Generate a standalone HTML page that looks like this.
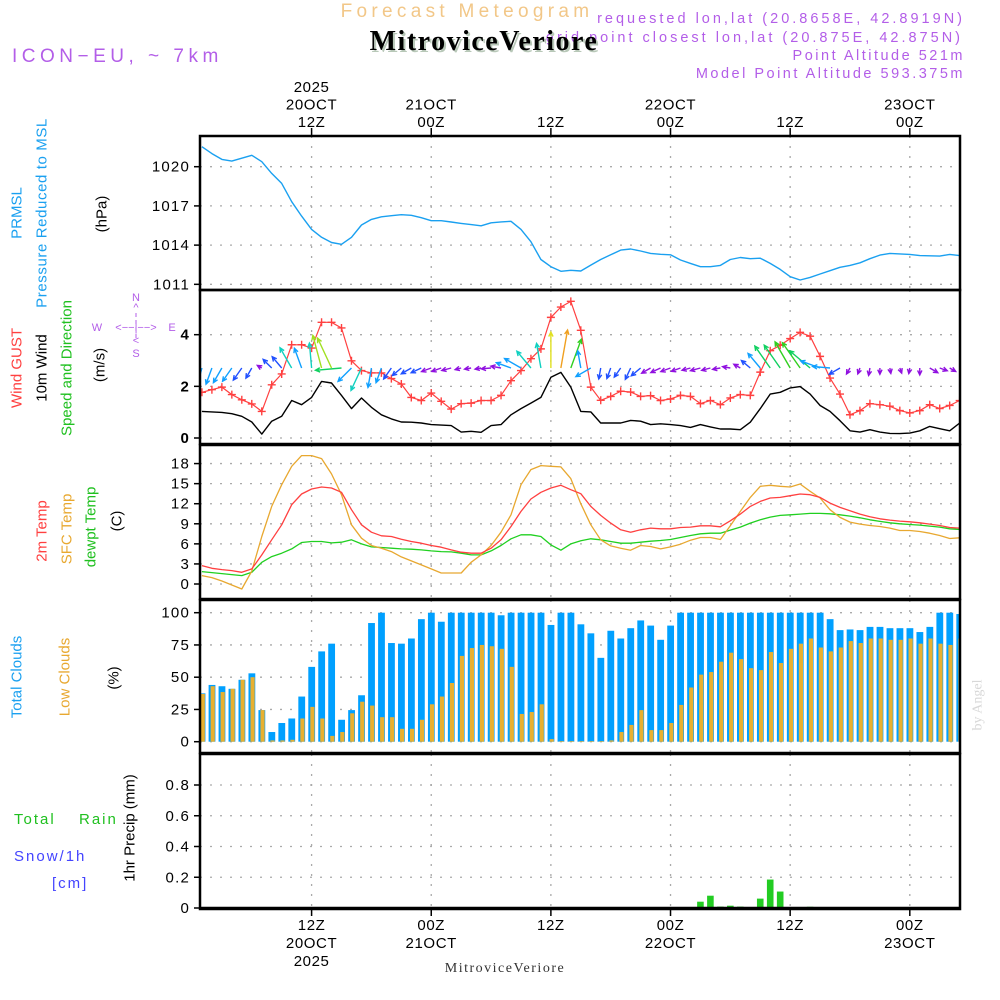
<!DOCTYPE html>
<html><head><meta charset="utf-8"><style>
html,body{margin:0;padding:0;background:#fff}
svg{display:block;font-family:"Liberation Sans",sans-serif}
</style></head><body>
<svg id="chart" width="1000" height="1000" viewBox="0 0 1000 1000">
<defs><clipPath id="plotclip"><rect x="200" y="130" width="760" height="790"/></clipPath></defs>
<g id="header">
<text x="467" y="17" font-size="19" fill="#f2c788" text-anchor="middle" letter-spacing="4.3">Forecast Meteogram</text>
<text x="965" y="23" font-size="14.5" fill="#b35ee8" text-anchor="end" letter-spacing="3">requested lon,lat (20.8658E, 42.8919N)</text>
<text x="963" y="42" font-size="14.5" fill="#b35ee8" text-anchor="end" letter-spacing="3">grid point closest lon,lat (20.875E, 42.875N)</text>
<text x="484" y="50" font-size="28" font-weight="bold" font-family="Liberation Serif,serif" fill="#b8c8b8" text-anchor="middle" letter-spacing="1.5" transform="translate(2,2)">MitroviceVeriore</text>
<text x="484" y="50" font-size="28" font-weight="bold" font-family="Liberation Serif,serif" fill="#000" text-anchor="middle" letter-spacing="1.5">MitroviceVeriore</text>
<text x="12" y="62" font-size="19" fill="#b35ee8" letter-spacing="4.5">ICON−EU, ~ 7km</text>
<text x="965" y="60" font-size="14.5" fill="#b35ee8" text-anchor="end" letter-spacing="2.5">Point Altitude 521m</text>
<text x="965" y="78" font-size="14.5" fill="#b35ee8" text-anchor="end" letter-spacing="2.5">Model Point Altitude 593.375m</text>
</g>
<g id="grid"></g>
<g id="marks" clip-path="url(#plotclip)"></g>
<g id="frames"></g>
<g id="axes"></g>
<g id="labels" font-size="15">
<text transform="translate(17,213) rotate(-90)" text-anchor="middle" dominant-baseline="central" fill="#1aa0f0">PRMSL</text>
<text transform="translate(42,213) rotate(-90)" text-anchor="middle" dominant-baseline="central" fill="#1aa0f0" letter-spacing="0.6">Pressure Reduced to MSL</text>
<text transform="translate(102,214) rotate(-90)" text-anchor="middle" dominant-baseline="central" fill="#000">(hPa)</text>
<text transform="translate(17,368) rotate(-90)" text-anchor="middle" dominant-baseline="central" fill="#ff4040">Wind GUST</text>
<text transform="translate(42,368) rotate(-90)" text-anchor="middle" dominant-baseline="central" fill="#000">10m Wind</text>
<text transform="translate(67,368) rotate(-90)" text-anchor="middle" dominant-baseline="central" fill="#20c020">Speed and Direction</text>
<text transform="translate(100,365) rotate(-90)" text-anchor="middle" dominant-baseline="central" fill="#000">(m/s)</text>
<g fill="#b35ee8" font-size="11" text-anchor="middle">
<text x="136" y="301">N</text><text x="136" y="311">^</text><text x="97" y="331">W</text><text x="172" y="331">E</text>
<text x="136" y="331">&lt;−−|−−&gt;</text><text x="136" y="344">&lt;</text><text x="136" y="357">S</text>
<line x1="136" y1="313" x2="136" y2="340" stroke="#b35ee8" stroke-dasharray="4 3"/>
</g>
<text transform="translate(42,531) rotate(-90)" text-anchor="middle" dominant-baseline="central" fill="#ff4040">2m Temp</text>
<text transform="translate(67,529) rotate(-90)" text-anchor="middle" dominant-baseline="central" fill="#e8a830">SFC Temp</text>
<text transform="translate(91,527) rotate(-90)" text-anchor="middle" dominant-baseline="central" fill="#20c020">dewpt Temp</text>
<text transform="translate(117,521) rotate(-90)" text-anchor="middle" dominant-baseline="central" fill="#000">(C)</text>
<text transform="translate(17,677) rotate(-90)" text-anchor="middle" dominant-baseline="central" fill="#1aa0f0">Total Clouds</text>
<text transform="translate(65,677) rotate(-90)" text-anchor="middle" dominant-baseline="central" fill="#e8a830">Low Clouds</text>
<text transform="translate(114,678) rotate(-90)" text-anchor="middle" dominant-baseline="central" fill="#000">(%)</text>
<text transform="translate(130,828) rotate(-90)" text-anchor="middle" dominant-baseline="central" fill="#000">1hr Precip (mm)</text>
<text x="14" y="824" fill="#20c020" letter-spacing="2">Total</text>
<text x="79" y="824" fill="#20c020" letter-spacing="2">Rain</text>
<text x="14" y="861" fill="#4444ff" letter-spacing="2">Snow/1h</text>
<text x="52" y="888" fill="#4444ff" letter-spacing="2">[cm]</text>
<text transform="translate(978,705) rotate(-90)" text-anchor="middle" dominant-baseline="central" fill="#d8d8d8" font-family="Liberation Serif,serif" font-size="14">by Angel</text>
<text x="505" y="972" font-family="Liberation Serif,serif" font-size="14" fill="#333" text-anchor="middle" letter-spacing="1.5">MitroviceVeriore</text>
</g>
</svg>
<script>
const pressure=[1021.53,1021.0,1020.56,1020.43,1020.65,1020.87,1020.38,1019.49,1018.72,1017.32,1016.22,1015.2,1014.6,1014.2,1014.06,1014.6,1015.54,1015.97,1016.17,1016.25,1016.33,1016.28,1016.1,1015.87,1015.87,1015.77,1015.66,1015.57,1015.48,1015.71,1015.78,1015.82,1015.2,1014.26,1012.9,1012.35,1012.0,1012.07,1012.02,1012.47,1012.9,1013.26,1013.62,1013.7,1013.55,1013.37,1013.3,1013.26,1012.86,1012.6,1012.35,1012.35,1012.45,1012.9,1013.05,1012.96,1013.0,1012.6,1012.14,1011.58,1011.33,1011.53,1011.79,1012.04,1012.3,1012.45,1012.65,1012.96,1013.24,1013.37,1013.33,1013.29,1013.2,1013.18,1013.16,1013.29,1013.2];
const gust=[1.77,1.87,1.97,1.68,1.48,1.32,1.03,2.06,2.48,3.61,3.61,3.48,4.48,4.48,4.26,2.99,2.61,2.52,2.52,2.3,2.09,1.57,1.45,1.74,1.42,1.12,1.33,1.35,1.45,1.45,1.65,2.22,2.61,3.07,3.45,4.67,5.07,5.29,4.17,1.97,1.46,1.61,1.81,1.78,1.61,1.64,1.45,1.51,1.65,1.61,1.33,1.45,1.29,1.55,1.68,1.65,2.55,3.38,3.59,3.85,4.09,3.94,3.16,2.32,1.7,0.9,1.06,1.33,1.29,1.23,1.06,0.97,1.06,1.29,1.14,1.26,1.45];
const wind10=[1.03,1.01,0.99,0.94,0.84,0.62,0.15,0.65,0.84,1.45,1.29,1.57,2.19,2.13,1.65,1.14,1.55,1.19,0.9,0.74,0.62,0.61,0.58,0.52,0.5,0.48,0.23,0.26,0.22,0.48,0.52,0.9,1.14,1.35,1.57,2.35,2.54,1.97,1.03,1.01,0.58,0.58,0.58,0.68,0.65,0.52,0.55,0.52,0.48,0.41,0.52,0.43,0.35,0.35,0.32,0.61,1.14,1.7,1.77,1.94,1.99,1.7,1.26,1.03,0.67,0.28,0.23,0.32,0.23,0.18,0.17,0.19,0.28,0.45,0.36,0.28,0.58];
const windTo=[195,200,210,215,215,210,300,315,320,330,340,355,345,335,265,225,205,190,200,215,230,240,245,250,250,255,255,260,260,265,280,290,300,320,350,0,10,20,350,240,190,200,215,205,230,240,245,250,250,255,255,255,260,280,300,310,320,325,325,330,325,310,290,275,240,210,200,190,180,170,160,190,180,120,110,120,130];
const t2m=[2.75,2.35,2.15,2.0,1.75,2.25,4.35,6.6,8.85,11.85,13.45,14.2,14.5,14.35,13.7,11.1,8.85,7.75,7.2,7.1,6.7,6.35,6.1,5.75,5.5,5.1,4.75,4.6,4.6,5.35,6.6,8.6,10.85,12.7,13.7,14.35,14.75,14.1,13.5,11.6,10.25,9.1,8.1,7.75,8.1,8.35,8.25,8.25,8.45,8.5,8.7,8.7,8.55,9.45,10.45,11.6,12.35,12.85,12.95,13.2,13.45,13.35,12.95,12.1,11.45,10.95,10.45,10.05,9.75,9.55,9.4,9.3,9.15,8.95,8.75,8.45,8.35];
const tsfc=[1.25,0.95,0.45,-0.15,-0.75,1.95,7.1,11.6,14.85,17.6,19.2,19.2,18.75,16.45,13.35,8.85,6.85,5.75,5.35,4.85,4.05,3.45,2.85,2.25,1.65,1.65,1.65,3.25,4.35,5.75,7.75,10.35,14.85,17.1,17.7,17.6,17.5,15.75,12.0,8.85,6.6,5.7,5.35,5.05,5.75,5.6,5.25,5.55,5.95,6.55,6.95,6.95,6.65,8.7,10.85,12.95,14.6,14.75,14.6,14.5,14.95,13.85,12.85,11.1,9.95,9.25,8.95,8.75,8.6,8.35,8.0,8.0,7.85,7.6,7.25,6.8,6.9];
const dewpt=[1.85,1.7,1.55,1.4,1.25,1.75,3.25,4.1,4.6,5.25,6.2,6.35,6.35,6.15,6.25,6.6,6.0,5.55,5.45,5.35,5.25,5.2,5.1,4.95,4.85,4.8,4.6,4.35,4.35,4.95,5.75,6.75,7.35,7.35,7.1,5.85,5.05,6.0,6.45,6.75,6.6,6.35,6.1,6.1,6.25,6.4,6.5,6.65,6.95,7.25,7.5,7.6,7.6,8.05,8.5,9.1,9.6,10.0,10.25,10.35,10.45,10.55,10.55,10.5,10.35,10.15,9.9,9.6,9.35,9.15,9.0,8.9,8.8,8.65,8.5,8.25,8.15];
const totalCloud=[37.5,44,43,41,48,53,24.5,7.5,14.5,18,35,58,70,76,17,24.5,36,92,100,76.5,76,80,95,100,93,100,100,100,100,100,98,100,100,100,100,90.5,100,100,91,84,65,86,80,88,94,90,79,90,100,100,100,100,100,100,100,100,100,100,100,100,100,100,100,95,86.5,87,86.5,89,89,88,88,88,85,89,100,100,99];
const lowCloud=[37,43,38.5,41,48,50,24.5,1,1,1.5,18,27,18,4.5,7.5,22,31,28,19,19,10,10,17,29,35,45.5,66.5,72.6,75,74,72,58,21.5,23,29,2,0.5,0.5,0.5,0.5,0.5,1,7.5,13,24.5,9,9,14.5,28.5,42,52,54,62,69,64,57,55.5,69.5,61,72,76,80,73,70,73,78,76.5,80,80,79,79,80,76,80,76,75,80];
const precip=[0,0,0,0,0,0,0,0,0,0,0,0,0,0,0,0,0,0,0,0,0,0,0,0,0,0,0,0,0,0,0,0,0,0,0,0,0,0,0,0,0,0,0,0,0,0,0,0,0,0,0.041,0.08,0.009,0.015,0.009,0.002,0.061,0.185,0.107,0,0,0.008,0,0,0,0,0,0,0,0,0,0,0,0,0,0,0];
const pTicks=[1011,1014,1017,1020];
const wTicks=[0,2,4];
const tTicks=[0,3,6,9,12,15,18];
const cTicks=[0,25,50,75,100];
const rTicks=[0,0.2,0.4,0.6,0.8];
const timeTicks=[12,24,36,48,60,72];
const topLabels=[["2025","20OCT","12Z"],["","21OCT","00Z"],["","","12Z"],["","22OCT","00Z"],["","","12Z"],["","23OCT","00Z"]];
const bottomLabels=[["12Z","20OCT","2025"],["00Z","21OCT",""],["12Z","",""],["00Z","22OCT",""],["12Z","",""],["00Z","23OCT",""]];
const hours=pressure.map((_,i)=>i+1);

const NS='http://www.w3.org/2000/svg';
const X=t=>311.6+(t-12)*9.97;
const yP=p=>166.7+(1020-p)*13.07;
const yW=v=>438-v*25.83;
const yT=c=>584-c*6.69;
const yC=c=>741.7-c*1.29;
const yR=r=>908-r*153.75;
const panels=[{y0:136,y1:290,s:yP,ticks:pTicks,name:'pressure'},{y0:290,y1:444,s:yW,ticks:wTicks,name:'wind'},{y0:445,y1:599,s:yT,ticks:tTicks,name:'temp'},{y0:600,y1:753,s:yC,ticks:cTicks,name:'cloud'},{y0:754,y1:909,s:yR,ticks:rTicks,name:'precip'}];
function mk(tag,attrs,parent){const e=document.createElementNS(NS,tag);for(const k in attrs)e.setAttribute(k,attrs[k]);parent.appendChild(e);return e;}
const G=document.getElementById('grid'),M=document.getElementById('marks'),F=document.getElementById('frames'),A=document.getElementById('axes');

panels.forEach(p=>{
  p.ticks.forEach(v=>{
    const y=p.s(v);
    const gl=mk('line',{x1:200,x2:960,y1:y,y2:y,stroke:'#aaa','stroke-width':1.3,'stroke-dasharray':'2 8'},G);
    
    
    const tk=mk('line',{x1:194,x2:200,y1:y,y2:y,stroke:'#000','stroke-width':1.5},A);
    
    
    const lb=mk('text',{x:190,y:y+5,'font-size':15,'text-anchor':'end',fill:'#000','letter-spacing':1.2,'font-weight':p.name==='wind'?'bold':'normal'},A);
    lb.textContent=p.name==='precip'&&v===0?'0':String(v);
    
    
  });
  timeTicks.forEach(t=>{
    const vl=mk('line',{x1:X(t),x2:X(t),y1:p.y0,y2:p.y1,stroke:'#aaa','stroke-width':1.3,'stroke-dasharray':'2 8'},G);
    
    
  });
  const r=mk('rect',{x:200,y:p.y0,width:760,height:p.y1-p.y0,fill:'none',stroke:'#000','stroke-width':2.5},F);
  
  
});
timeTicks.forEach((t,i)=>{
  const x=X(t);
  const a=mk('line',{x1:x,x2:x,y1:128,y2:136,stroke:'#000','stroke-width':1.5},A);
  
  
  const b=mk('line',{x1:x,x2:x,y1:909,y2:916,stroke:'#000','stroke-width':1.5},A);
  
  
  topLabels[i].forEach((s,j)=>{if(!s)return;
    const tx=mk('text',{x:x,y:92+j*17.5,'font-size':15,'text-anchor':'middle',fill:'#000','letter-spacing':0.6},A);tx.textContent=s;
    
    });
  bottomLabels[i].forEach((s,j)=>{if(!s)return;
    const tx=mk('text',{x:x,y:930+j*18,'font-size':15,'text-anchor':'middle',fill:'#000','letter-spacing':0.6},A);tx.textContent=s;
    
    });
});

function line(vals,s,color,name,w){
  const d=vals.map((v,i)=>(i?'L':'M')+X(hours[i]).toFixed(1)+','+s(v).toFixed(1)).join('');
  const pth=mk('path',{d:d,fill:'none',stroke:color,'stroke-width':w||1.3,'stroke-linejoin':'round'},M);
  
  
}
totalCloud.forEach((v,i)=>{const x=X(hours[i]);
  const b=mk('rect',{x:x-3.3,y:yC(v),width:6.8,height:yC(0)-yC(v),fill:'#00a0ff'},M);
  
  });
lowCloud.forEach((v,i)=>{const x=X(hours[i]);
  const b=mk('rect',{x:x-1.3,y:yC(v),width:4.2,height:yC(0)-yC(v),fill:'#e8b030'},M);
  
  });
precip.forEach((v,i)=>{if(v<=0)return;const x=X(hours[i]);
  const b=mk('rect',{x:x-3.3,y:yR(v),width:6.6,height:yR(0)-yR(v),fill:'#22cc22'},M);
  
  });
const pl=mk('line',{x1:200,x2:960,y1:908,y2:908,stroke:'#000','stroke-width':2.5},F);



line(pressure,yP,'#1aa0f0','pressure-line',1.4);
line(wind10,yW,'#000','wind10m-line',1.4);
line(gust,yW,'#ff4040','gust-line',1.2);
gust.forEach((v,i)=>{const x=X(hours[i]),y=yW(v);
  const g=mk('path',{d:`M${x-4},${y}H${x+4}M${x},${y-4}V${y+4}`,stroke:'#ff4040','stroke-width':1.4},M);
  
  });
function wcol(v){if(v<0.56)return'#9010e0';if(v<0.9)return'#2050ff';if(v<1.3)return'#10a0ff';if(v<1.6)return'#10d0c0';if(v<1.85)return'#10d060';if(v<2.1)return'#30d020';if(v<2.3)return'#a0e020';if(v<2.45)return'#e0e020';return'#f0a020';}
windTo.forEach((a,i)=>{const x=X(hours[i]),y=368,v=wind10[i],L=3+14*v,r=a*Math.PI/180;
  const ex=x+L*Math.sin(r),ey=y-L*Math.cos(r),h=5,ang=Math.atan2(ey-y,ex-x);
  const h1x=ex-h*Math.cos(ang-0.45),h1y=ey-h*Math.sin(ang-0.45),h2x=ex-h*Math.cos(ang+0.45),h2y=ey-h*Math.sin(ang+0.45);
  const ar=mk('path',{d:`M${x},${y}L${ex},${ey}M${h1x},${h1y}L${ex},${ey}L${h2x},${h2y}`,stroke:wcol(v),'stroke-width':1.4,fill:'none'},M);
  
  });
line(dewpt,yT,'#20d020','dewpt-line',1.3);
line(tsfc,yT,'#e8a830','sfc-temp-line',1.3);
line(t2m,yT,'#ff4040','t2m-line',1.3);
</script>
</body></html>
